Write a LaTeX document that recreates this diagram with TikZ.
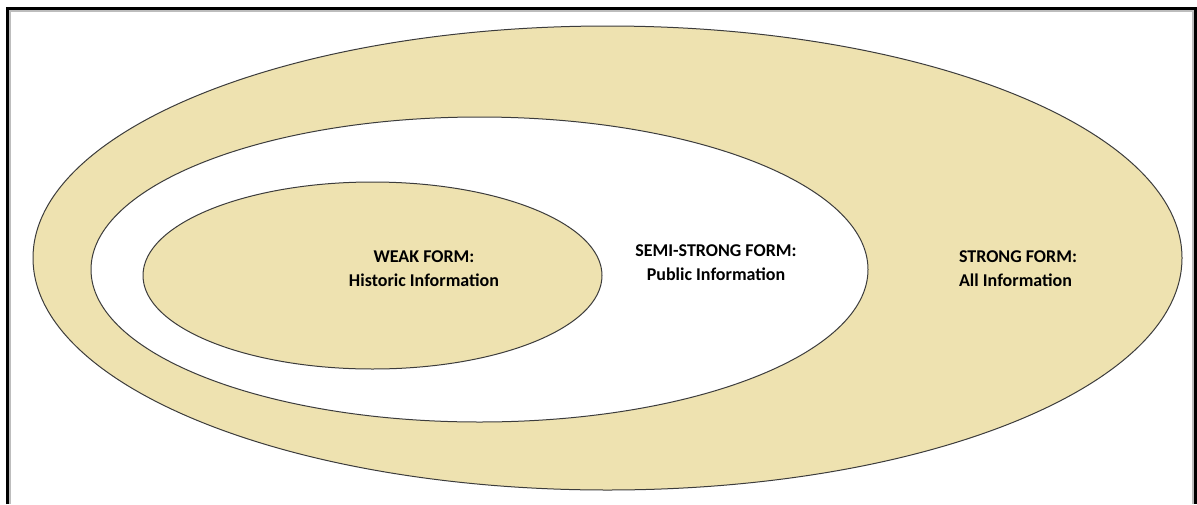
\documentclass[tikz,border=0pt]{standalone}
\usepackage{fontspec}
\setmainfont{Carlito}
\definecolor{sand}{HTML}{EEE2B0}
\definecolor{rim}{HTML}{3C3C3C}
\definecolor{framegray}{HTML}{BDBDBD}
\begin{document}
\begin{tikzpicture}[x=1pt,y=-1pt,
  ring/.style={draw=rim,line width=1pt},
  label/.style={font=\bfseries\fontsize{18}{24}\selectfont,inner sep=0pt,anchor=base}]
\useasboundingbox (0,0) rectangle (1197,504);
\fill[white] (0,0) rectangle (1197,504);
% window frame: dark outer line and grey inner line, open at the bottom
\draw[black,line width=3pt] (7.5,504) -- (7.5,8.5) -- (1195.5,8.5) -- (1195.5,504);
\draw[framegray,line width=2.5pt] (10.2,504) -- (10.2,11.2) -- (1193,11.2) -- (1193,504);
% nested ellipses: strong, semi-strong, weak
\draw[ring,fill=sand]  (607.5,258) ellipse [x radius=574.5pt, y radius=232pt];
\draw[ring,fill=white] (479.5,269.5) ellipse [x radius=388.5pt, y radius=152.5pt];
\draw[ring,fill=sand]  (372.5,275.5) ellipse [x radius=229.5pt, y radius=93.5pt];
% labels (base anchor sits on the last line)
\node[label,align=center] (weak) at (424,286) {WEAK FORM:\\Historic Information};
\node[label,align=center] (semi) at (716,280) {SEMI-STRONG FORM:\\Public Information};
\node[label,align=left] (strong) at (1018,286) {STRONG FORM:\\All Information};
\end{tikzpicture}
\end{document}
